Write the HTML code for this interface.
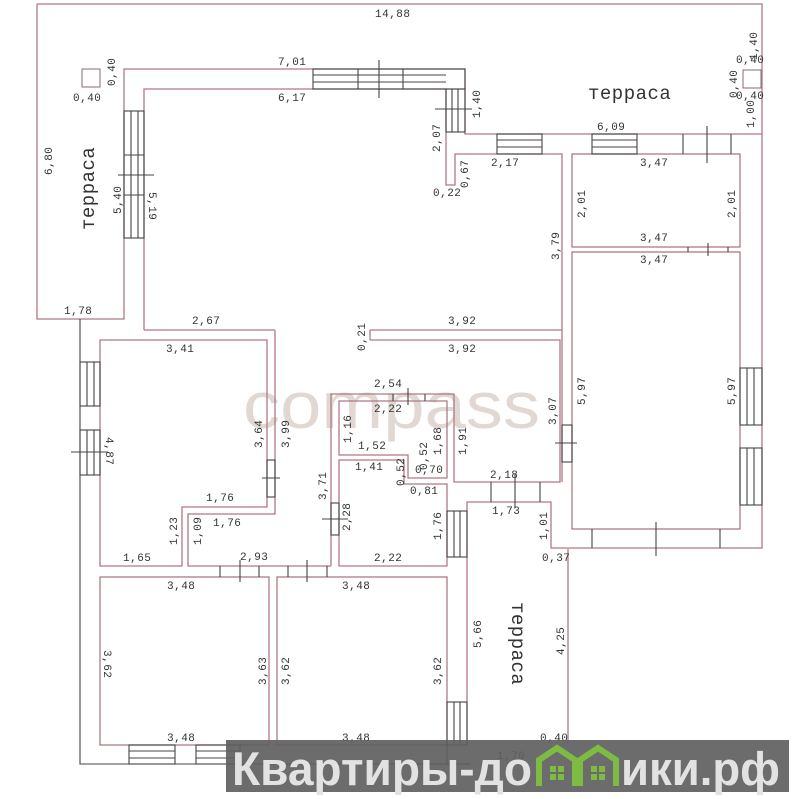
<!DOCTYPE html>
<html><head><meta charset="utf-8"><style>
html,body{margin:0;padding:0;background:#fff}
svg{display:block}
text{font-family:"Liberation Mono",monospace;font-size:11px;fill:#333;letter-spacing:0.5px}
.t{font-family:"Liberation Mono",monospace;font-size:19px;fill:#333}
.b{font-family:"Liberation Sans","DejaVu Sans",sans-serif;font-weight:bold;font-size:47px;fill:#e2e2e2;letter-spacing:0}
</style></head><body>
<svg width="799" height="799" viewBox="0 0 799 799" xmlns="http://www.w3.org/2000/svg">
<rect width="799" height="799" fill="#fff"/>
<text x="243" y="428" textLength="297" lengthAdjust="spacingAndGlyphs" style="font-family:'Liberation Sans',sans-serif;font-size:66px;fill:#e2d8d3;letter-spacing:0">compass</text>
<g fill="none" stroke="#b07884" stroke-width="1.3">
<polyline points="37,4 762,4 762,548 551,548 551,502 467,502 467,745"/>
<polyline points="37,4 37,319 124,319 124,69 465,69 465,134 762,134"/>
<polyline points="144,330 144,89 446,89 446,185 455,185 455,154 562,154 562,482"/>
<line x1="144" y1="330" x2="275" y2="330"/>
<line x1="370" y1="330" x2="562" y2="330"/>
<line x1="370" y1="330" x2="370" y2="340"/>
<polyline points="370,340 560,340 560,482 454,482 454,394 331,394 331,566"/>
<rect x="572" y="154" width="168" height="93"/>
<rect x="572" y="252" width="168" height="277"/>
<polygon points="339,401 447,401 447,478 408,478 408,455 339,455"/>
<polygon points="339,460 404,460 404,484 447,484 447,566 339,566"/>
<polygon points="100,340 267,340 267,507 182,507 182,566 100,566"/>
<polyline points="275,330 275,514 188,514 188,566 331,566"/>
<rect x="100" y="577" width="169" height="168"/>
<rect x="277" y="577" width="170" height="168"/>
<line x1="568" y1="549" x2="568" y2="745"/>
</g>
<g fill="none" stroke="#444" stroke-width="1.1">
<polyline points="80,319 80,764 470,764"/>
<line x1="447" y1="745" x2="447" y2="764"/>
<rect x="313" y="69" width="152" height="20"/><line x1="313" y1="75" x2="446" y2="75"/><line x1="313" y1="82" x2="446" y2="82"/><line x1="358" y1="69" x2="358" y2="89"/><line x1="379" y1="60" x2="379" y2="98"/><line x1="403" y1="69" x2="403" y2="89"/>
<rect x="446" y="89" width="19" height="43"/><line x1="452" y1="89" x2="452" y2="132"/><line x1="458" y1="89" x2="458" y2="132"/><line x1="435" y1="109" x2="472" y2="109"/>
<rect x="124" y="111" width="20" height="127"/><line x1="131" y1="111" x2="131" y2="238"/><line x1="138" y1="111" x2="138" y2="238"/><line x1="124" y1="155" x2="144" y2="155"/><line x1="124" y1="195" x2="144" y2="195"/><line x1="118" y1="175" x2="154" y2="175"/>
<rect x="497" y="134" width="45" height="20"/><line x1="497" y1="140" x2="542" y2="140"/><line x1="497" y1="147" x2="542" y2="147"/>
<rect x="592" y="134" width="45" height="20"/><line x1="592" y1="140" x2="637" y2="140"/><line x1="592" y1="147" x2="637" y2="147"/>
<line x1="683" y1="134" x2="683" y2="154"/><line x1="707" y1="126" x2="707" y2="163"/><line x1="731" y1="134" x2="731" y2="154"/>
<line x1="688" y1="247" x2="688" y2="252"/><line x1="708" y1="243" x2="708" y2="256"/><line x1="728" y1="247" x2="728" y2="252"/>
<rect x="740" y="368" width="22" height="57"/><line x1="747" y1="368" x2="747" y2="425"/><line x1="754" y1="368" x2="754" y2="425"/>
<rect x="740" y="448" width="22" height="57"/><line x1="747" y1="448" x2="747" y2="505"/><line x1="754" y1="448" x2="754" y2="505"/>
<line x1="592" y1="529" x2="592" y2="548"/><line x1="656" y1="522" x2="656" y2="556"/><line x1="720" y1="529" x2="720" y2="548"/>
<rect x="562" y="425" width="10" height="37"/><line x1="555" y1="443" x2="577" y2="443"/>
<line x1="491" y1="482" x2="491" y2="502"/><line x1="515" y1="474" x2="515" y2="508"/><line x1="540" y1="482" x2="540" y2="502"/>
<line x1="393" y1="394" x2="393" y2="401"/><line x1="408" y1="388" x2="408" y2="405"/><line x1="425" y1="394" x2="425" y2="401"/>
<rect x="447" y="511" width="20" height="46"/><line x1="454" y1="511" x2="454" y2="557"/><line x1="460" y1="511" x2="460" y2="557"/>
<rect x="331" y="503" width="8" height="32"/><line x1="322" y1="519" x2="348" y2="519"/>
<rect x="267" y="460" width="8" height="37"/><line x1="262" y1="478" x2="280" y2="478"/>
<rect x="80" y="362" width="20" height="44"/><line x1="87" y1="362" x2="87" y2="406"/><line x1="94" y1="362" x2="94" y2="406"/>
<rect x="80" y="430" width="20" height="45"/><line x1="87" y1="430" x2="87" y2="475"/><line x1="94" y1="430" x2="94" y2="475"/><line x1="71" y1="452" x2="108" y2="452"/>
<line x1="220" y1="566" x2="220" y2="577"/><line x1="240" y1="560" x2="240" y2="582"/><line x1="259" y1="566" x2="259" y2="577"/>
<line x1="288" y1="566" x2="288" y2="577"/><line x1="307" y1="560" x2="307" y2="582"/><line x1="327" y1="566" x2="327" y2="577"/>
<rect x="129" y="745" width="46" height="19"/><line x1="129" y1="751" x2="175" y2="751"/><line x1="129" y1="758" x2="175" y2="758"/>
<rect x="196" y="745" width="44" height="19"/><line x1="196" y1="751" x2="240" y2="751"/><line x1="196" y1="758" x2="240" y2="758"/>
<rect x="447" y="702" width="20" height="43"/><line x1="454" y1="702" x2="454" y2="745"/><line x1="460" y1="702" x2="460" y2="745"/>
</g>
<g fill="none" stroke="#8a6a70" stroke-width="1"><rect x="82" y="69" width="18" height="18"/><rect x="743" y="70" width="18" height="18"/></g>
<g>
<text x="375" y="17">14,88</text>
<text x="278" y="65">7,01</text><text x="278" y="101">6,17</text>
<text x="73" y="101">0,40</text>
<text transform="translate(115,86) rotate(-90)">0,40</text>
<text transform="translate(52,175) rotate(-90)">6,80</text>
<text class="t" transform="translate(94,230) rotate(-90)">терраса</text>
<text transform="translate(121,214) rotate(-90)">5,40</text>
<text transform="translate(149,192) rotate(90)">5,19</text>
<text x="64" y="314">1,78</text>
<text x="192" y="324">2,67</text>
<text transform="translate(365,351) rotate(-90)">0,21</text>
<text x="166" y="352">3,41</text>
<text transform="translate(480,118) rotate(-90)">1,40</text>
<text transform="translate(440,152) rotate(-90)">2,07</text>
<text transform="translate(468,188) rotate(-90)">0,67</text>
<text x="433" y="196">0,22</text>
<text x="491" y="166">2,17</text><text x="597" y="130">6,09</text><text x="640" y="166">3,47</text>
<text class="t" x="588" y="99">терраса</text>
<text transform="translate(757,60) rotate(-90)">1,40</text>
<text x="736" y="63">0,40</text><text x="736" y="99">0,40</text>
<text transform="translate(737,98) rotate(-90)">0,40</text>
<text transform="translate(754,128) rotate(-90)">1,00</text>
<text transform="translate(585,218) rotate(-90)">2,01</text>
<text transform="translate(735,218) rotate(-90)">2,01</text>
<text transform="translate(559,260) rotate(-90)">3,79</text>
<text x="640" y="241">3,47</text><text x="640" y="263">3,47</text>
<text x="448" y="324">3,92</text><text x="448" y="352">3,92</text>
<text transform="translate(585,405) rotate(-90)">5,97</text>
<text transform="translate(735,405) rotate(-90)">5,97</text>
<text x="374" y="387">2,54</text><text x="374" y="412">2,22</text>
<text transform="translate(351,443) rotate(-90)">1,16</text>
<text x="358" y="449">1,52</text>
<text transform="translate(441,455) rotate(-90)">1,68</text>
<text transform="translate(556,425) rotate(-90)">3,07</text>
<text transform="translate(466,455) rotate(-90)">1,91</text>
<text transform="translate(262,448) rotate(-90)">3,64</text>
<text transform="translate(289,448) rotate(-90)">3,99</text>
<text transform="translate(106,437) rotate(90)">4,87</text>
<text transform="translate(326,500) rotate(-90)">3,71</text>
<text x="355" y="470">1,41</text>
<text transform="translate(404,486) rotate(-90)">0,52</text>
<text transform="translate(427,470) rotate(-90)">0,52</text>
<text x="415" y="473">0,70</text><text x="410" y="494">0,81</text>
<text x="490" y="478">2,18</text>
<text transform="translate(350,531) rotate(-90)">2,28</text>
<text transform="translate(441,540) rotate(-90)">1,76</text>
<text x="492" y="514">1,73</text>
<text transform="translate(547,540) rotate(-90)">1,01</text>
<text x="542" y="561">0,37</text>
<text x="206" y="501">1,76</text><text x="213" y="526">1,76</text>
<text transform="translate(177,545) rotate(-90)">1,23</text>
<text transform="translate(201,545) rotate(-90)">1,09</text>
<text x="123" y="561">1,65</text><text x="240" y="560">2,93</text><text x="374" y="561">2,22</text>
<text x="167" y="589">3,48</text><text x="342" y="589">3,48</text>
<text transform="translate(104,650) rotate(90)">3,62</text>
<text transform="translate(266,685) rotate(-90)">3,63</text>
<text transform="translate(289,685) rotate(-90)">3,62</text>
<text transform="translate(441,685) rotate(-90)">3,62</text>
<text transform="translate(481,648) rotate(-90)">5,66</text>
<text transform="translate(564,655) rotate(-90)">4,25</text>
<text class="t" transform="translate(512,602) rotate(90)">терраса</text>
<text x="167" y="741">3,48</text><text x="342" y="741">3,48</text>
<text x="540" y="741">0,40</text><text x="497" y="759">1,70</text>
</g>
<rect x="226" y="740" width="563" height="52" fill="#5f5f5f" fill-opacity="0.92"/>
<text class="b" x="232" y="785" textLength="300" lengthAdjust="spacingAndGlyphs">Квартиры-до</text>
<g fill="none" stroke="#7dbb43" stroke-width="6" stroke-linejoin="miter">
<polyline points="539,786 539,760 557,748 575,760 575,786"/>
<polyline points="580,786 580,760 598,748 616,760 616,786"/>
</g>
<g fill="#7dbb43">
<rect x="550" y="766" width="6" height="6"/><rect x="558" y="766" width="6" height="6"/><rect x="550" y="774" width="6" height="6"/><rect x="558" y="774" width="6" height="6"/>
<rect x="591" y="766" width="6" height="6"/><rect x="599" y="766" width="6" height="6"/><rect x="591" y="774" width="6" height="6"/><rect x="599" y="774" width="6" height="6"/>
</g>
<text class="b" x="621" y="785" textLength="159" lengthAdjust="spacingAndGlyphs">ики.рф</text>
</svg>
</body></html>
